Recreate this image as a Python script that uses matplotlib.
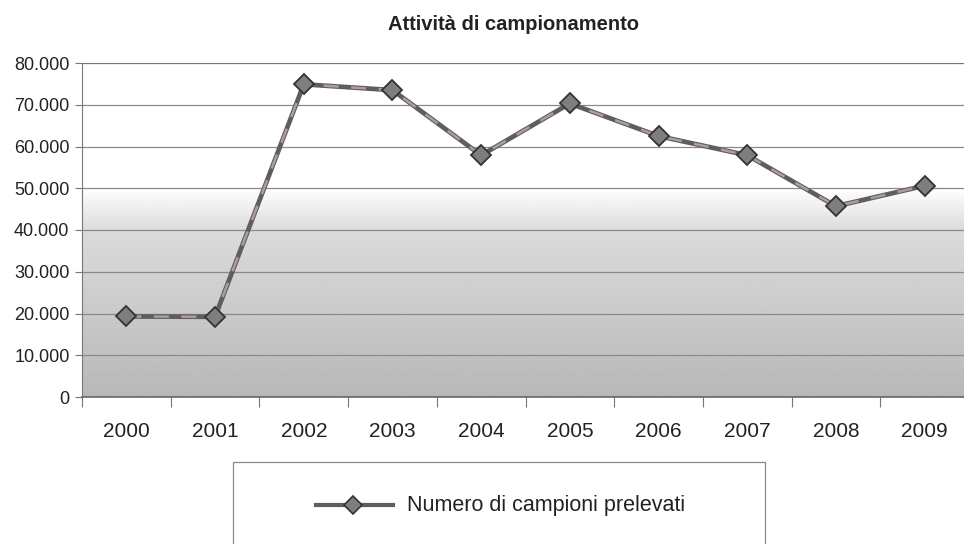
import numpy as np
import matplotlib
matplotlib.use("Agg")
import matplotlib.pyplot as plt
from matplotlib.lines import Line2D
from matplotlib.patches import Rectangle
from matplotlib.ticker import FuncFormatter, FixedLocator

plt.rcParams['font.family'] = ['Liberation Sans', 'DejaVu Sans']

# Dati
anni = ['2000', '2001', '2002', '2003', '2004', '2005', '2006', '2007', '2008', '2009']
campioni = [19300, 19200, 74900, 73500, 57900, 70300, 62500, 57900, 45700, 50600]
titolo = "Attività di campionamento"
etichetta = "Numero di campioni prelevati"

fig = plt.figure(figsize=(9.64, 5.44), dpi=100)
W, H = 964, 544

# assi (in pixel: sinistra 82, destra 969, alto 63, basso 397)
ax = fig.add_axes([82 / W, 1 - 397 / H, 887 / W, 334 / H])
ax.set_xlim(-0.5, 9.5)
ax.set_ylim(0, 80000)

# sfondo sfumato
ys = np.linspace(0, 80000, 400)
shade = np.interp(ys, [0, 40000, 50000, 80000], [0.72, 0.86, 1.0, 1.0])
grad = np.repeat(shade[:, None], 2, axis=1)
ax.imshow(grad, cmap='gray', vmin=0, vmax=1, origin='lower', aspect='auto',
          extent=[-0.5, 9.5, 0, 80000], zorder=0)

# griglia
for v in range(10000, 80001, 10000):
    ax.axhline(v, color='#8a8a8a' if v != 80000 else '#777777', lw=0.9, zorder=1)

x = np.arange(len(anni))
ax.plot(x, campioni, color='#5e5e5e', lw=3.4, zorder=3, solid_capstyle='round')
ax.plot(x, campioni, color='#b09c9c', lw=1.8, dashes=(6, 5), zorder=4)
ax.plot(x, campioni, ls='none', marker='D', ms=10, mfc='#7e7e7e', mec='#333333',
        mew=1.3, zorder=5)

# assi e tick
for s in ['top', 'right']:
    ax.spines[s].set_visible(False)
ax.spines['left'].set_color('#777777')
ax.spines['bottom'].set_color('#666666')
ax.spines['bottom'].set_linewidth(1.2)
ax.yaxis.set_major_locator(FixedLocator(range(0, 80001, 10000)))
ax.yaxis.set_major_formatter(FuncFormatter(lambda v, p: f"{int(v):,}".replace(",", ".")))
ax.tick_params(axis='y', length=5, pad=4, color='#777777', labelsize=13, labelcolor='#222222')
ax.set_xticks(np.arange(-0.5, 9.6, 1.0))
ax.set_xticklabels([])
ax.set_xticks(x, minor=True)
ax.set_xticklabels(anni, minor=True)
ax.tick_params(axis='x', which='major', length=7, color='#777777')
ax.tick_params(axis='x', which='minor', length=0, pad=18, labelsize=15, labelcolor='#222222')

fig.text(514 / W, 1 - 25 / H, titolo, ha='center', va='center', fontsize=14.5,
         fontweight='bold', color='#222222')

# riquadro legenda
fig.patches.append(Rectangle((233 / W, -0.05), (765 - 233) / W, (0.05 + 1 - 462 / H),
                             transform=fig.transFigure, fill=False, ec='#8a8a8a', lw=0.9))
ly = 1 - 505 / H
fig.add_artist(Line2D([316 / W, 393 / W], [ly, ly], transform=fig.transFigure,
                      color='#5e5e5e', lw=3))
fig.add_artist(Line2D([353 / W], [ly], transform=fig.transFigure, ls='none', marker='D',
                      ms=9, mfc='#7e7e7e', mec='#333333', mew=1.2))
fig.text(407 / W, ly, etichetta, ha='left', va='center', fontsize=15.5, color='#222222')

fig.savefig("out.png", dpi=100)
